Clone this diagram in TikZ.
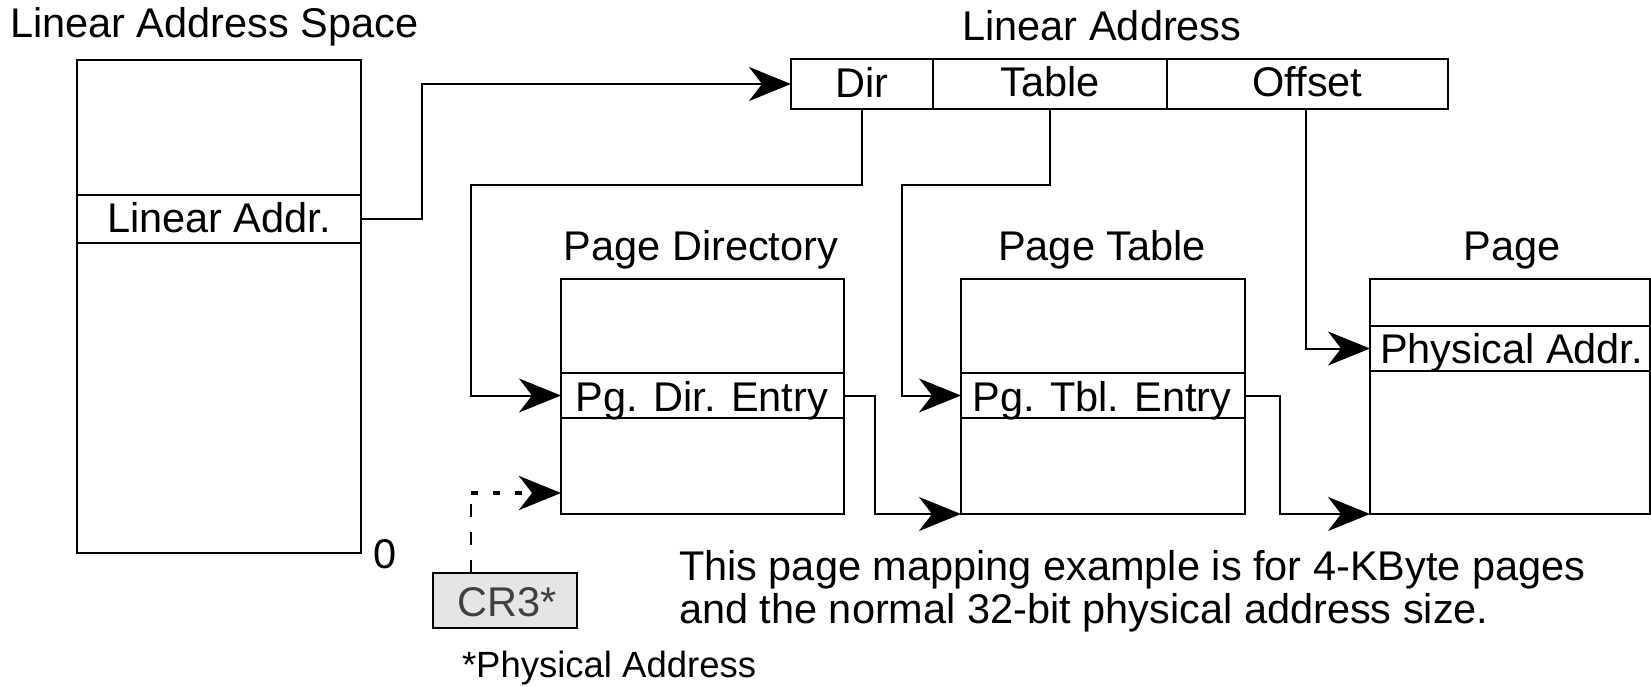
\documentclass[tikz,border=0pt]{standalone}
\usepackage{fontspec}
\setmainfont{Liberation Sans}
\usetikzlibrary{arrows.meta}
\begin{document}
\begin{tikzpicture}[x=1pt,y=-1pt,
  every node/.style={font=\fontsize{41.5pt}{44pt}\selectfont, inner sep=0pt, outer sep=0pt},
  boxst/.style={draw, line width=2pt, rectangle},
  lbl/.style={anchor=base},
  tipst/.style={-{Stealth[length=42pt, width=34pt, inset=13pt]}},
  arr/.style={line width=2pt, tipst},
  ln/.style={line width=2pt}]
\useasboundingbox (0,0) rectangle (1651,687);

% Linear address space
\node[lbl, anchor=base west] (lastitle) at (10,38) {Linear Address Space};
\node[boxst, minimum width=284pt, minimum height=493pt] (las) at (219,306.5) {};
\node[boxst, minimum width=284pt, minimum height=48pt] (laddr) at (219,219) {};
\node[lbl] (laddrt) at (219,233) {Linear Addr.};
\node[lbl] (zero) at (385,568) {0};

% Linear address fields
\node[lbl] (latitle) at (1102,41) {Linear Address};
\node[boxst, minimum width=142pt, minimum height=50pt] (dirf) at (862,84) {};
\node[boxst, minimum width=234pt, minimum height=50pt] (tabf) at (1050,84) {};
\node[boxst, minimum width=281pt, minimum height=50pt] (offf) at (1307.5,84) {};
\node[lbl] (dirt) at (862,98) {Dir};
\node[lbl] (tabt) at (1050,97) {Table};
\node[lbl] (offt) at (1307.5,97) {Offset};

% Page directory
\node[lbl] (pdtitle) at (701,260) {Page Directory};
\node[boxst, minimum width=283pt, minimum height=235pt] (pdb) at (702.5,396.5) {};
\node[boxst, minimum width=283pt, minimum height=45pt] (pde) at (702.5,395.5) {};
\node[lbl] (pdet) at (702,411) {Pg. Dir. Entry};

% Page table
\node[lbl] (pttitle) at (1102,260) {Page Table};
\node[boxst, minimum width=284pt, minimum height=235pt] (ptb) at (1103,396.5) {};
\node[boxst, minimum width=284pt, minimum height=45pt] (pte) at (1103,395.5) {};
\node[lbl] (ptet) at (1102,411) {Pg. Tbl. Entry};

% Page
\node[lbl] (pgtitle) at (1512,260) {Page};
\node[boxst, minimum width=279.5pt, minimum height=235pt] (pgb) at (1509.75,396.5) {};
\node[boxst, minimum width=279.5pt, minimum height=45pt] (pa) at (1509.75,348.5) {};
\node[lbl, anchor=base west] (pat) at (1380,363) {Physical Addr.};

% CR3
\node[boxst, fill=gray!20, minimum width=144pt, minimum height=55pt] (cr3) at (504.5,600.5) {};
\node[lbl, text=black!75] (cr3t) at (507,616) {CR3*};
\node[lbl, anchor=base west, font=\fontsize{36.5pt}{40pt}\selectfont] (phys) at (462,677) {*Physical Address};
\coordinate (cr3turn) at (471,493);

% Description
\node[lbl, anchor=base west] (desc1) at (679,580) {This page mapping example is for 4-KByte pages};
\node[lbl, anchor=base west] (desc2) at (679,623) {and the normal 32-bit physical address size.};

% Connectors
\draw[arr] (laddr.east) -- ++(61,0) |- (dirf.west);
\draw[arr] (dirf.south) -- ++(0,76) -| (471,300) |- (pde.west);
\draw[arr] (tabf.south) -- ++(0,76) -| (902,300) |- (pte.west);
\draw[arr] (offf.south -| 1306,0) |- (pa.west);
\draw[arr] (pde.east) -- ++(31,0) |- (ptb.south west);
\draw[arr] (pte.east) -- ++(35,0) |- (pgb.south west);
\draw[ln, dash pattern=on 13pt off 15pt] (cr3turn |- cr3.north) -- (cr3turn);
\draw[line width=4.5pt, dash pattern=on 7pt off 15pt, tipst] (cr3turn) -- (pdb.west |- cr3turn);
\end{tikzpicture}
\end{document}
